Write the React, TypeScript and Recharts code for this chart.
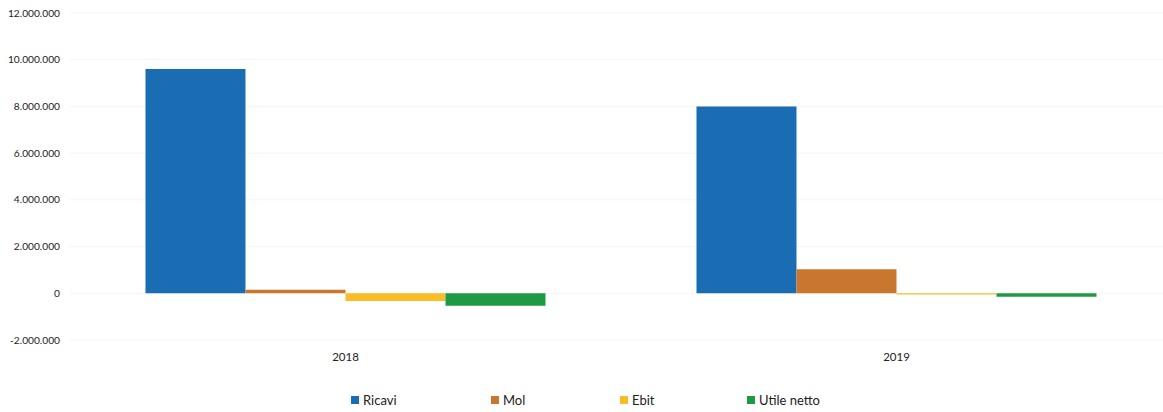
import React from 'react';
import { BarChart, Bar, XAxis, YAxis, CartesianGrid, Legend } from 'recharts';

const years = ['2018', '2019'];
const ricavi = [9600000, 8000000];
const mol = [150000, 1030000];
const ebit = [-330000, -50000];
const utileNetto = [-530000, -150000];
const yTicks = [-2000000, 0, 2000000, 4000000, 6000000, 8000000, 10000000, 12000000];

const seriesNames = ['Ricavi', 'Mol', 'Ebit', 'Utile netto'];
const seriesKeys = ['ricavi', 'mol', 'ebit', 'utile'];
const seriesColors = ['#1a6db3', '#c9772e', '#fbbd26', '#1f9a44'];

const data = years.map((y, i) => ({
  year: y,
  ricavi: ricavi[i],
  mol: mol[i],
  ebit: ebit[i],
  utile: utileNetto[i],
}));

const fmt = (v: number) => {
  const s = Math.abs(v).toString().replace(/\B(?=(\d{3})+(?!\d))/g, '.');
  return v < 0 ? '-' + s : s;
};

const YTick = (props: any) => {
  const { x, y, payload } = props;
  return (
    <text
      x={x + 2}
      y={y}
      dy="0.35em"
      textAnchor="end"
      fontFamily="Lato, sans-serif"
      fontSize={10.2}
      fill="#222"
    >
      {fmt(payload.value)}
    </text>
  );
};

const legendLefts = [351, 491, 620, 747];

const LegendContent = () => (
  <div style={{ position: 'relative', width: 1163, height: 42 }}>
    {seriesNames.map((n, i) => (
      <div
        key={n}
        style={{
          position: 'absolute',
          left: legendLefts[i],
          top: 22,
          display: 'flex',
          alignItems: 'center',
          fontFamily: 'Lato, sans-serif',
          fontSize: 13,
          lineHeight: '16px',
          color: '#222',
          whiteSpace: 'nowrap',
        }}
      >
        <span style={{ display: 'inline-block', width: 8, height: 8, background: seriesColors[i], marginRight: 4 }} />
        {n}
      </div>
    ))}
  </div>
);

export default function App() {
  return (
    <div style={{ position: 'absolute', left: 0, top: 0, width: 1163, height: 412, overflow: 'clip', background: '#fff' }}>
      <style>{'html,body{overflow:hidden;}'}</style>
      <BarChart
        width={1180}
        height={412}
        data={data}
        margin={{ top: 13, right: 8, bottom: 0, left: 0 }}
        barCategoryGap="13.7%"
        barGap={0}
      >
        <CartesianGrid vertical={false} stroke="#f5f5f5" />
        <XAxis
          dataKey="year"
          axisLine={false}
          tickLine={false}
          height={30}
          tick={{ fontFamily: 'Lato, sans-serif', fontSize: 11.5, fill: '#222' }}
          tickMargin={7}
        />
        <YAxis
          width={70}
          domain={[-2000000, 12000000]}
          ticks={yTicks}
          axisLine={false}
          tickLine={false}
          tickMargin={6}
          interval={0}
          tick={<YTick />}
        />
        <Legend
          verticalAlign="bottom"
          content={<LegendContent />}
          wrapperStyle={{ left: 0, width: 1163, height: 42 }}
        />
        {seriesKeys.map((k, i) => (
          <Bar key={k} dataKey={k} name={seriesNames[i]} fill={seriesColors[i]} isAnimationActive={false} />
        ))}
      </BarChart>
    </div>
  );
}
